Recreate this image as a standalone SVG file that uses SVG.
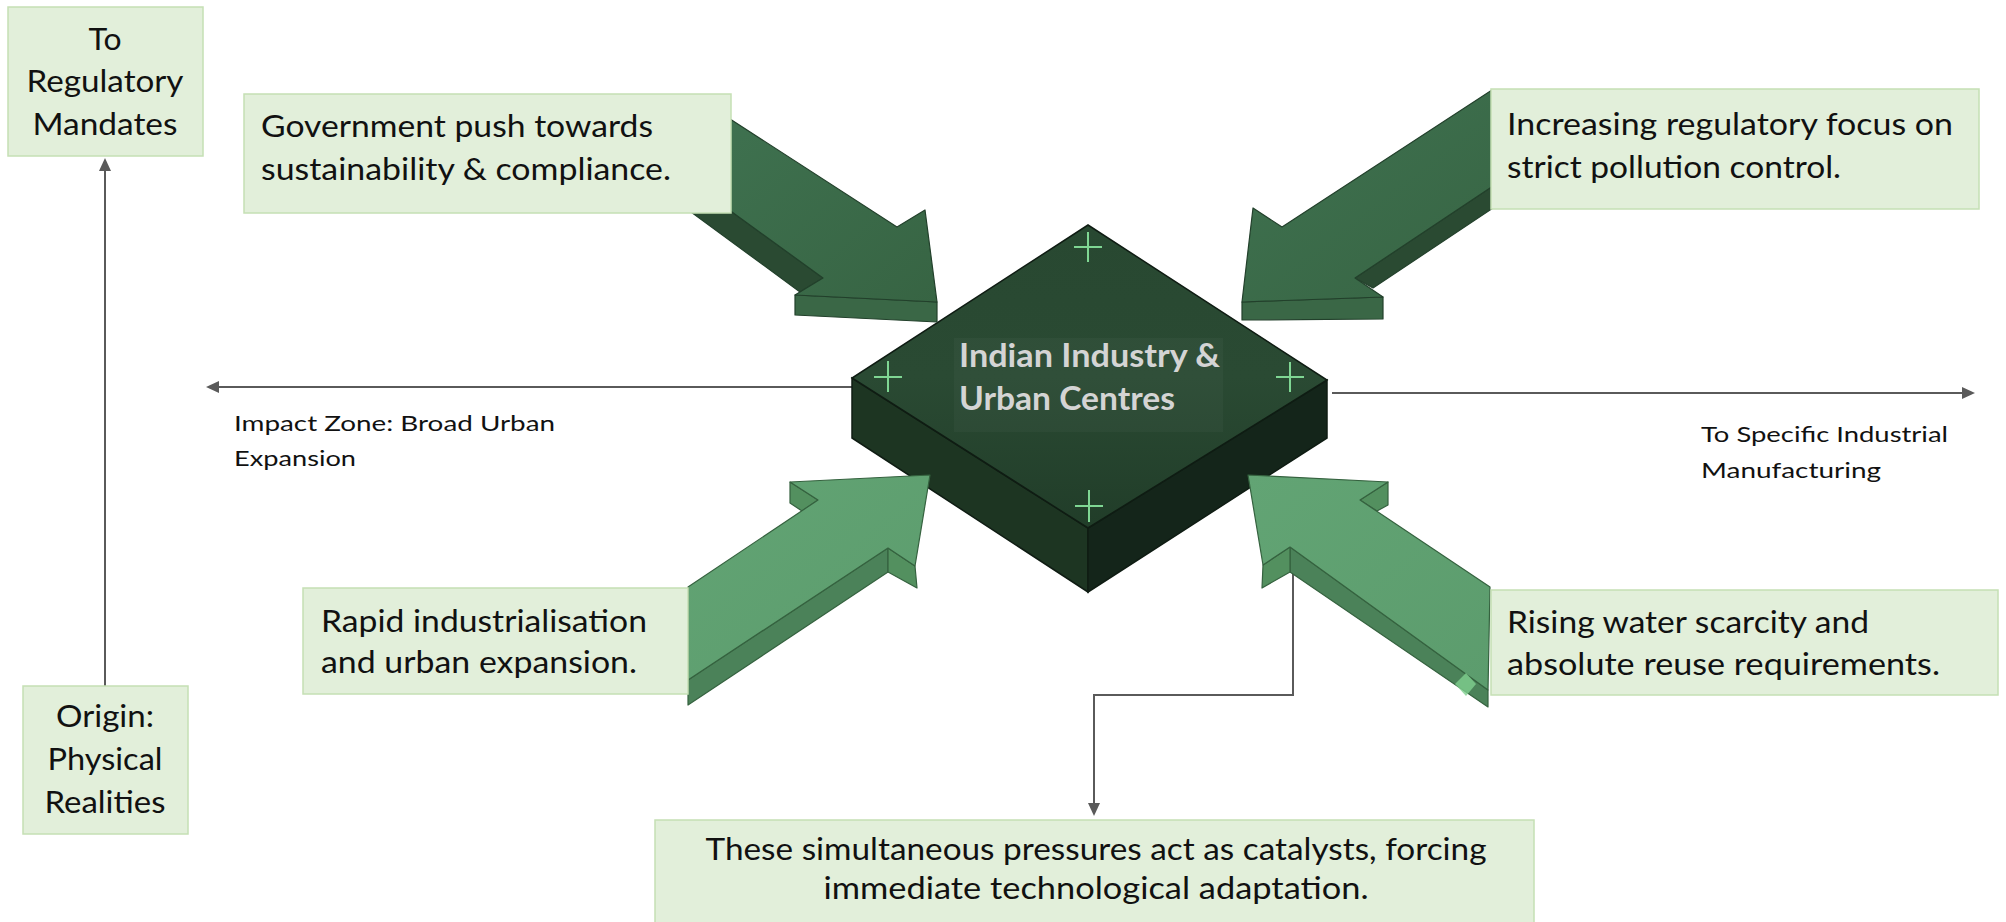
<svg xmlns="http://www.w3.org/2000/svg" width="2006" height="922" viewBox="0 0 2006 922">
<style>
.box{fill:#e2efda;stroke:#c5e0b4;stroke-width:1.5}
.t{font-family:Lato,"Liberation Sans",sans-serif;font-size:31px;fill:#111}
.s{font-family:Lato,"Liberation Sans",sans-serif;font-size:22px;fill:#111}
.ct{font-family:Lato,"Liberation Sans",sans-serif;font-size:32px;font-weight:bold;fill:#d4d4d4}
.con{fill:none;stroke:#5a5a5a;stroke-width:2;marker-end:url(#ah)}
.df{fill:url(#darkFront);stroke:#22402b;stroke-width:1.2;stroke-linejoin:round}
.ds{fill:#2a4a32;stroke:#22402b;stroke-width:1.2;stroke-linejoin:round}
.dh{fill:#3a6746;stroke:#22402b;stroke-width:1.2;stroke-linejoin:round}
.lf{fill:url(#lightFront);stroke:#35623f;stroke-width:1.2;stroke-linejoin:round}
.ls{fill:#4b8259;stroke:#35623f;stroke-width:1.2;stroke-linejoin:round}
.lb{fill:#53905f;stroke:#35623f;stroke-width:1.2;stroke-linejoin:round}
.plus{stroke:#7fd693;stroke-width:2;fill:none}
</style>
<defs>
<marker id="ah" markerUnits="userSpaceOnUse" markerWidth="13" markerHeight="12" refX="0" refY="6" orient="auto">
<path d="M0,0 L13,6 L0,12 z" fill="#5a5a5a"/>
</marker>
<linearGradient id="darkFront" x1="0" y1="0" x2="1" y2="1">
<stop offset="0" stop-color="#3f7250"/>
<stop offset="1" stop-color="#376443"/>
</linearGradient>
<linearGradient id="lightFront" x1="0" y1="0" x2="1" y2="1">
<stop offset="0" stop-color="#62a474"/>
<stop offset="1" stop-color="#5c9c6d"/>
</linearGradient>
<linearGradient id="topFace" x1="0" y1="0" x2="0" y2="1">
<stop offset="0" stop-color="#284831"/>
<stop offset="0.5" stop-color="#2a4a33"/>
<stop offset="1" stop-color="#213d29"/>
</linearGradient>
</defs>

<g id="connectors">
<path class="con" d="M105,686 V171"/>
<path class="con" d="M852,387 H219"/>
<path class="con" d="M1332,393 H1962"/>
<path class="con" d="M1293,570 V695 H1094 V803"/>
</g>

<g id="hub">
<polygon points="852,378 1088,528 1088,592 852,438" fill="#1d3522" stroke="#0f1c13" stroke-width="1.5"/>
<polygon points="1088,528 1327,380 1327,438 1088,592" fill="#14251a" stroke="#0f1c13" stroke-width="1.5"/>
<polygon points="1088,225 1327,380 1088,528 852,378" fill="url(#topFace)" stroke="#0f1c13" stroke-width="1.5"/>
<rect x="954" y="338" width="269" height="94" fill="#ffffff" fill-opacity="0.03"/>
<path class="plus" d="M1074,247 H1102 M1088,232 V262"/>
<path class="plus" d="M874,377 H902 M888,361 V392"/>
<path class="plus" d="M1276,377 H1304 M1290,362 V392"/>
<path class="plus" d="M1075,506 H1103 M1089,490 V522"/>
<text class="ct" x="959" y="367" textLength="261" lengthAdjust="spacingAndGlyphs">Indian Industry &amp;</text>
<text class="ct" x="959" y="410" textLength="216" lengthAdjust="spacingAndGlyphs">Urban Centres</text>
</g>

<g id="arrow-tl">
<polygon class="ds" points="691,212 732,212 823,278 800,292"/>
<polygon class="dh" points="795,295 937,302 937,322 795,315"/>
<polygon class="df" points="710,106 897,227 925,210 937,302 795,295 823,278 710,196"/>
</g>
<g id="arrow-tr">
<polygon class="ds" points="1520,168 1520,190 1373,288 1355,278"/>
<polygon class="dh" points="1242,302 1383,297 1383,319 1242,320"/>
<polygon class="df" points="1492,90 1282,227 1253,208 1242,302 1383,297 1355,278 1520,168 1520,90"/>
</g>
<g id="arrow-bl">
<polygon class="ls" points="688,680 888,548 888,572 688,705"/>
<polygon class="lb" points="888,548 915,566 917,588 888,572"/>
<polygon class="lb" points="790,482 818,500 802,511 790,503"/>
<polygon class="lf" points="688,587 818,500 790,482 930,475 915,566 888,548 688,680"/>
</g>
<g id="arrow-br">
<polygon class="ls" points="1290,547 1488,690 1488,707 1290,572"/>
<polygon class="lb" points="1263,565 1290,547 1290,572 1262,588"/>
<polygon class="lb" points="1388,482 1388,505 1377,511 1360,500"/>
<polygon class="lf" points="1248,475 1388,482 1360,500 1490,587 1488,690 1290,547 1263,565"/>
<polygon points="1466,673 1476,684 1466,696 1455,684" fill="#7fcf8f" fill-opacity="0.8"/>
</g>

<g id="node-regulatory">
<rect class="box" x="8" y="7" width="195" height="149"/>
<text class="t" x="105" y="50" text-anchor="middle" textLength="33" lengthAdjust="spacingAndGlyphs">To</text>
<text class="t" x="105" y="92" text-anchor="middle" textLength="157" lengthAdjust="spacingAndGlyphs">Regulatory</text>
<text class="t" x="105" y="135" text-anchor="middle" textLength="145" lengthAdjust="spacingAndGlyphs">Mandates</text>
</g>
<g id="node-origin">
<rect class="box" x="23" y="686" width="165" height="148"/>
<text class="t" x="105" y="727" text-anchor="middle" textLength="98" lengthAdjust="spacingAndGlyphs">Origin:</text>
<text class="t" x="105" y="770" text-anchor="middle" textLength="115" lengthAdjust="spacingAndGlyphs">Physical</text>
<text class="t" x="105" y="813" text-anchor="middle" textLength="121" lengthAdjust="spacingAndGlyphs">Realities</text>
</g>
<g id="node-government">
<rect class="box" x="244" y="94" width="487" height="119"/>
<text class="t" x="261" y="137" textLength="392" lengthAdjust="spacingAndGlyphs">Government push towards</text>
<text class="t" x="261" y="180" textLength="410" lengthAdjust="spacingAndGlyphs">sustainability &amp; compliance.</text>
</g>
<g id="node-regulatory-focus">
<rect class="box" x="1491" y="89" width="488" height="120"/>
<text class="t" x="1507" y="135" textLength="446" lengthAdjust="spacingAndGlyphs">Increasing regulatory focus on</text>
<text class="t" x="1507" y="178" textLength="334" lengthAdjust="spacingAndGlyphs">strict pollution control.</text>
</g>
<g id="node-rapid">
<rect class="box" x="303" y="588" width="385" height="106"/>
<text class="t" x="321" y="632" textLength="326" lengthAdjust="spacingAndGlyphs">Rapid industrialisation</text>
<text class="t" x="321" y="673" textLength="316" lengthAdjust="spacingAndGlyphs">and urban expansion.</text>
</g>
<g id="node-water">
<rect class="box" x="1491" y="590" width="507" height="105"/>
<text class="t" x="1507" y="633" textLength="362" lengthAdjust="spacingAndGlyphs">Rising water scarcity and</text>
<text class="t" x="1507" y="675" textLength="433" lengthAdjust="spacingAndGlyphs">absolute reuse requirements.</text>
</g>
<g id="node-catalyst">
<rect class="box" x="655" y="820" width="879" height="110"/>
<text class="t" x="1096" y="860" text-anchor="middle" textLength="781" lengthAdjust="spacingAndGlyphs">These simultaneous pressures act as catalysts, forcing</text>
<text class="t" x="1096" y="899" text-anchor="middle" textLength="545" lengthAdjust="spacingAndGlyphs">immediate technological adaptation.</text>
</g>
<g id="label-impact">
<text class="s" x="234" y="431" textLength="321" lengthAdjust="spacingAndGlyphs">Impact Zone: Broad Urban</text>
<text class="s" x="234" y="466" textLength="122" lengthAdjust="spacingAndGlyphs">Expansion</text>
</g>
<g id="label-specific">
<text class="s" x="1701" y="442" textLength="247" lengthAdjust="spacingAndGlyphs">To Specific Industrial</text>
<text class="s" x="1701" y="478" textLength="180" lengthAdjust="spacingAndGlyphs">Manufacturing</text>
</g>
</svg>
